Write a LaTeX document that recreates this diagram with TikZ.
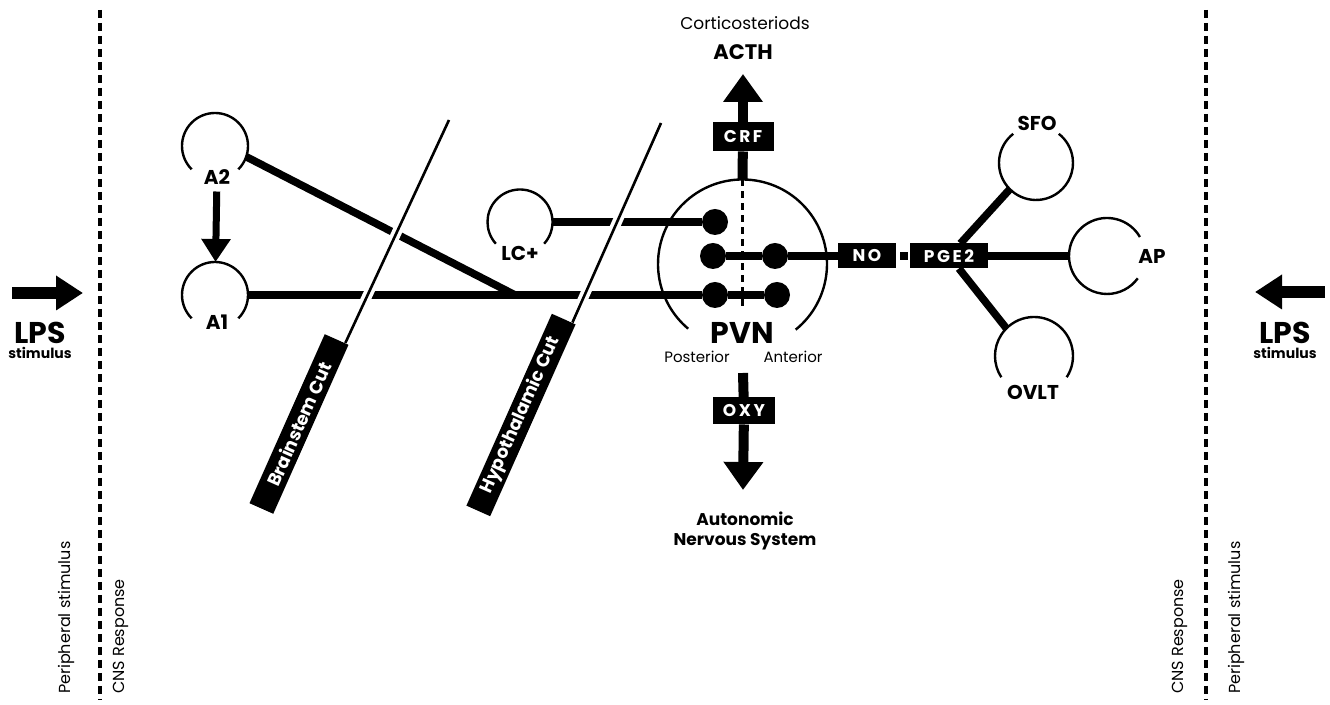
\documentclass[tikz,border=0pt]{standalone}
\usepackage{fontspec}
\setmainfont{Poppins}
\usetikzlibrary{arrows.meta,calc}

\tikzset{
  nucleus/.style={circle, minimum size=#1, inner sep=0pt, outer sep=0pt},
  ring/.style={line width=1.2pt},
  dot/.style={circle, fill=black, minimum size=13pt, inner sep=0pt, outer sep=0pt},
  fiber/.style={line width=3.8pt},
  stem/.style={line width=5pt},
  factorbox/.style={fill=black, text=white, inner sep=0pt, outer sep=0pt,
    font=\bfseries\fontsize{8.5}{9}\selectfont\addfontfeatures{LetterSpace=15}},
  cutbox/.style={fill=black, text=white, inner sep=0pt, minimum height=13pt,
    rotate=66, font=\bfseries\fontsize{9}{10}\selectfont},
  cutline/.style={line width=1.3pt, preaction={draw=white, line width=5pt}},
  nlabel/.style={font=\bfseries\fontsize{10}{12}\selectfont},
  sidetext/.style={rotate=90, anchor=west, font=\fontsize{8}{9}\selectfont},
  border/.style={line width=1.7pt, dash pattern=on 4pt off 2.5pt},
  midline/.style={line width=1.2pt, dash pattern=on 3.5pt off 2.5pt},
  bigarrow/.style={line width=5pt, -{Triangle[width=19pt,length=14pt]}},
  lpsarrow/.style={line width=6pt, -{Triangle[width=16.5pt,length=13.5pt]}},
}

\begin{document}
\begin{tikzpicture}[x=0.5pt, y=0.5pt]
    \useasboundingbox (0,0) rectangle (1330,705);

    % Peripheral / CNS borders
    \coordinate (bLtop) at (100,695);
    \coordinate (bLbot) at (100,5);
    \coordinate (bRtop) at (1206,695);
    \coordinate (bRbot) at (1206,5);
    \draw[border] (bLtop) -- (bLbot);
    \draw[border] (bRtop) -- (bRbot);
    \node[sidetext] (perL) at (66,4) {Peripheral stimulus};
    \node[sidetext] (cnsL) at (121,4) {CNS Response};
    \node[sidetext] (cnsR) at (1180,4) {CNS Response};
    \node[sidetext] (perR) at (1236,4) {Peripheral stimulus};

    % LPS stimulus on both sides
    \coordinate (lpsL) at (12,412);
    \coordinate (lpsLtip) at (83,412);
    \coordinate (lpsR) at (1325,413);
    \coordinate (lpsRtip) at (1255,413);
    \draw[lpsarrow] (lpsL) -- (lpsLtip);
    \draw[lpsarrow] (lpsR) -- (lpsRtip);
    \node[font=\bfseries\fontsize{15}{16}\selectfont] (lpsLtxt) at (40,372) {LPS};
    \node[font=\bfseries\fontsize{7}{8}\selectfont] (stimL) at (40,352) {stimulus};
    \node[font=\bfseries\fontsize{15}{16}\selectfont] (lpsRtxt) at (1285,372) {LPS};
    \node[font=\bfseries\fontsize{7}{8}\selectfont] (stimR) at (1285,352) {stimulus};

    % Brainstem nuclei
    \node[nucleus=33pt] (A2) at (215,559) {};
    \draw[ring] (A2.-45) arc[start angle=-45, end angle=225, radius=16.5pt];
    \node[nlabel] (A2lbl) at (217,528) {A2};
    \node[nucleus=33pt] (A1) at (215,410) {};
    \draw[ring] (A1.-45) arc[start angle=-45, end angle=225, radius=16.5pt];
    \node[nlabel] (A1lbl) at (217,383) {A1};
    \draw[line width=3.5pt, -{Triangle[width=14pt,length=11.5pt]}] (A2lbl) -- (A1);
    \node[nucleus=32.5pt] (LC) at (520,483) {};
    \draw[ring] (LC.-42) arc[start angle=-42, end angle=222, radius=16.25pt];
    \node[nlabel] (LClbl) at (520,452) {LC+};

    % PVN with its cell groups
    \node[nucleus=84.5pt] (pvn) at (742.5,441) {};
    \draw[ring] (pvn.-51) arc[start angle=-51, end angle=230, radius=42.25pt];
    \coordinate (pvnbase) at (742.5,397);
    \draw[midline] (pvn.north) -- (pvnbase);
    \node[dot] (d1) at (715,483) {};
    \node[dot] (d2) at (713,449) {};
    \node[dot] (d3) at (775,449) {};
    \node[dot] (d4) at (715,410) {};
    \node[dot] (d5) at (777,410) {};
    \node[font=\bfseries\fontsize{15}{16}\selectfont] (pvnlbl) at (742,372) {PVN};
    \node[font=\fontsize{7.5}{8}\selectfont] (post) at (697,348) {Posterior};
    \node[font=\fontsize{7.5}{8}\selectfont] (ant) at (793,348) {Anterior};

    % CRF output
    \node[factorbox, minimum width=30.5pt, minimum height=14.5pt] (crf) at (743,568) {CRF};
    \coordinate (acthtip) at (743,631);
    \draw[stem] (pvn.north) -- (crf);
    \draw[bigarrow] (crf) -- (acthtip);
    \node[font=\bfseries\fontsize{10.5}{12}\selectfont] (acth) at (743,653) {ACTH};
    \node[font=\fontsize{8.5}{10}\selectfont] (cort) at (745,682) {Corticosteriods};

    % OXY output
    \node[factorbox, minimum width=31pt, minimum height=13.5pt] (oxy) at (744,294) {OXY};
    \coordinate (oxystem) at (743,332);
    \coordinate (anstip) at (743,215);
    \draw[stem] (oxystem) -- (oxy);
    \draw[bigarrow] (oxy) -- (anstip);
    \node[font=\bfseries\fontsize{8.5}{10}\selectfont, align=center] (ans) at (745,174)
      {Autonomic\\Nervous System};

    % Circumventricular organs
    \node[factorbox, minimum width=29pt, minimum height=12.5pt] (no) at (867,449) {NO};
    \node[fill=black, minimum size=4pt, inner sep=0pt] (link) at (904,449) {};
    \node[factorbox, minimum width=39pt, minimum height=12.5pt] (pge) at (949,449) {PGE2};
    \node[nucleus=37pt] (SFO) at (1036,542) {};
    \draw[ring] (SFO.128) arc[start angle=128, end angle=412, radius=18.5pt];
    \node[nlabel] (SFOlbl) at (1037,582) {SFO};
    \node[nucleus=38pt] (AP) at (1107,449) {};
    \draw[ring] (AP.30) arc[start angle=30, end angle=324, radius=19pt];
    \node[nlabel] (APlbl) at (1152,449) {AP};
    \node[nucleus=39pt] (OVLT) at (1034,349) {};
    \draw[ring] (OVLT.-33) arc[start angle=-33, end angle=213, radius=19.5pt];
    \node[nlabel] (OVLTlbl) at (1033,313) {OVLT};

    % Fibres
    \coordinate (merge) at (515,410);
    \draw[fiber] (A2.-19) -- (merge);
    \draw[fiber] (A1.east) -- (d4);
    \draw[fiber] (LC.east) -- (d1);
    \draw[fiber] (d2) -- (d3);
    \draw[fiber] (d4) -- (d5);
    \draw[fiber] (d3) -- (no);
    \draw[fiber] (pge) -- (SFO.225);
    \draw[fiber] (pge) -- (OVLT.135);
    \draw[fiber] (pge) -- (AP.west);

    % Cuts
    \node[cutbox, minimum width=92.5pt] (bscut) at (299,281) {Brainstem Cut};
    \coordinate (bstop) at (449,585);
    \draw[cutline] (bstop) -- ($(bscut.east)!0.7!(bscut.south east)$);
    \node[cutbox, minimum width=105pt] (hycut) at (521,290) {Hypothalamic Cut};
    \coordinate (hytop) at (661,582);
    \draw[cutline] (hytop) -- ($(hycut.east)!0.7!(hycut.south east)$);
\end{tikzpicture}
\end{document}
